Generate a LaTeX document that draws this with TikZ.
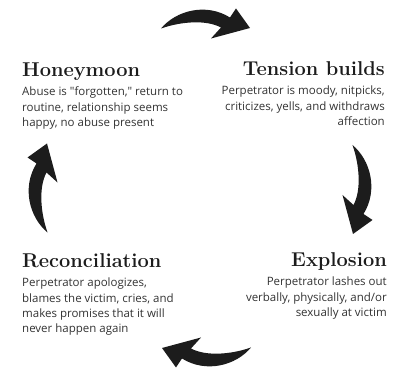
\documentclass[tikz,border=0pt]{standalone}
\usepackage{fontspec}
\newfontfamily\bodyfont{Open Sans}
\usetikzlibrary{positioning}
\definecolor{ink}{RGB}{28,28,28}
\tikzset{
  stagetitle/.style={inner sep=0pt, text=ink, font=\fontsize{20}{24}\selectfont\bfseries},
  stagetext/.style={inner sep=0pt, text=ink!90, font=\bodyfont\fontsize{11.5}{15.2}\selectfont},
  cyclearrow/.pic={
    \fill[ink] (-45,-1) .. controls (-30,17) and (0,25) .. (24,10) -- (30,19) -- (44,-0.5)
      -- (5,-11) -- (15,0) .. controls (0,8) and (-25,6) .. (-45,-1) -- cycle;
  }
}
\begin{document}
\begin{tikzpicture}[x=1pt,y=1pt]
                \useasboundingbox[fill=white] (0,0) rectangle (400,375);
                \pic at (206,347.5) {cyclearrow};
                \pic[rotate=-90] at (353.5,185) {cyclearrow};
                \pic[rotate=180] at (206,26.5) {cyclearrow};
                \pic[rotate=90] at (46.5,187.5) {cyclearrow};
                \node[stagetitle, anchor=base west] (honeymoon) at (22,298) {Honeymoon};
                \node[stagetext, below=10pt of honeymoon.base west, anchor=north west, align=left] (honeymoontext)
                  {Abuse is "forgotten," return to\\routine, relationship seems\\happy, no abuse present};
                \node[stagetitle, anchor=base east] (tension) at (385,299) {Tension builds};
                \node[stagetext, below=10pt of tension.base east, anchor=north east, align=right] (tensiontext)
                  {Perpetrator is moody, nitpicks,\\criticizes, yells, and withdraws\\affection};
                \node[stagetitle, anchor=base east] (explosion) at (387,108) {Explosion};
                \node[stagetext, below=10pt of explosion.base east, anchor=north east, align=right] (explosiontext)
                  {Perpetrator lashes out\\verbally, physically, and/or\\sexually at victim};
                \node[stagetitle, anchor=base west] (reconciliation) at (22,107) {Reconciliation};
                \node[stagetext, below=10pt of reconciliation.base west, anchor=north west, align=left] (reconciliationtext)
                  {Perpetrator apologizes,\\blames the victim, cries, and\\makes promises that it will\\never happen again};
            \end{tikzpicture}
\end{document}
